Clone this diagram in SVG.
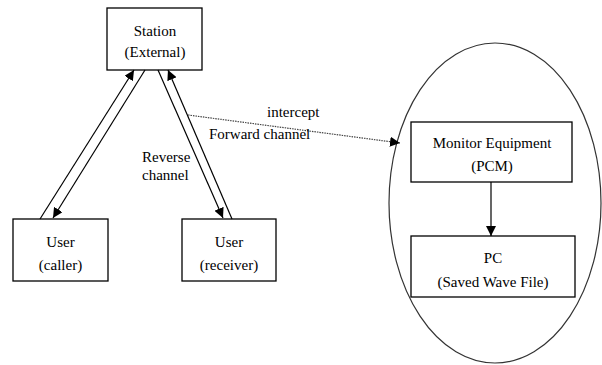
<svg xmlns="http://www.w3.org/2000/svg" width="602" height="365" viewBox="0 0 602 365">
<defs>
<marker id="ah" viewBox="0 0 10 10" refX="10" refY="5" markerWidth="10" markerHeight="10" markerUnits="userSpaceOnUse" orient="auto">
<path d="M0,0 L10,5 L0,10 z" fill="#000"/>
</marker>
</defs>
<style>
.box{fill:#fff;stroke:#000;stroke-width:1.3}
text{font-family:'Liberation Serif','Times New Roman',Times,serif;font-size:15px;fill:#000}
.t{text-anchor:middle}
.ln{stroke:#000;stroke-width:1.2;fill:none}
.dot{stroke:#444;stroke-width:1.2;stroke-dasharray:1.5 1;fill:none}
</style>
<rect width="602" height="365" fill="#fff"/>
<g id="region">
<ellipse cx="495" cy="203" rx="106" ry="160" fill="none" stroke="#333" stroke-width="1.2"/>
</g>
<g id="station">
<rect class="box" x="107" y="8" width="95" height="62"/>
<text class="t" x="155" y="36">Station</text>
<text class="t" x="155" y="57">(External)</text>
</g>
<g id="caller">
<rect class="box" x="13" y="219" width="95" height="62"/>
<text class="t" x="60.5" y="247">User</text>
<text class="t" x="60.5" y="270">(caller)</text>
</g>
<g id="receiver">
<rect class="box" x="182" y="219" width="94" height="62"/>
<text class="t" x="229" y="247">User</text>
<text class="t" x="229" y="270">(receiver)</text>
</g>
<g id="monitor">
<rect class="box" x="411" y="122" width="161" height="60"/>
<text class="t" x="492" y="148">Monitor Equipment</text>
<text class="t" x="492" y="171">(PCM)</text>
</g>
<g id="pc">
<rect class="box" x="411" y="236" width="164" height="61"/>
<text class="t" x="493" y="263">PC</text>
<text class="t" x="493" y="287">(Saved Wave File)</text>
</g>
<g id="connectors">
<line class="ln" x1="40" y1="219" x2="134" y2="70" marker-end="url(#ah)"/>
<line class="ln" x1="145" y1="70" x2="53" y2="218" marker-end="url(#ah)"/>
<line class="ln" x1="158" y1="70" x2="223" y2="218" marker-end="url(#ah)"/>
<line class="ln" x1="232" y1="219" x2="168" y2="70" marker-end="url(#ah)"/>
<line class="dot" x1="188" y1="115" x2="400" y2="143" marker-end="url(#ah)"/>
<line class="ln" x1="491" y1="182" x2="491" y2="236" marker-end="url(#ah)"/>
<text x="267" y="117">intercept</text>
<text x="209" y="139">Forward channel</text>
<text x="142" y="162">Reverse</text>
<text x="142" y="180">channel</text>
</g>
</svg>
